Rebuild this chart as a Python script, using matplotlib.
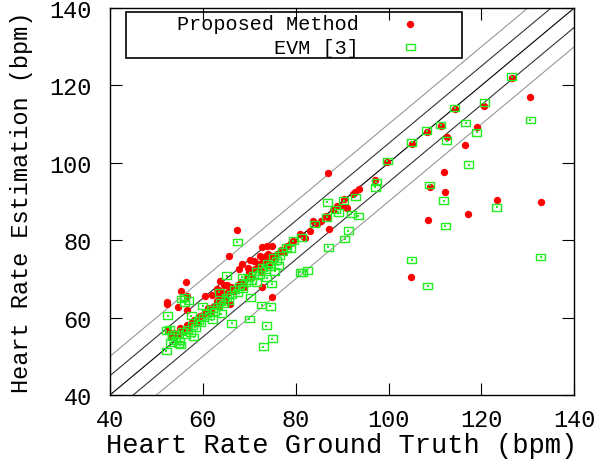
import matplotlib
matplotlib.use("Agg")
import matplotlib.pyplot as plt
from matplotlib.path import Path
from matplotlib.patches import Rectangle

# ground truth / estimation pairs (bpm)
prop_gt = [126.5, 130.4, 120.6, 114.3, 119.0, 111.2, 108.2, 112.5, 105.0, 116.5,
           99.7, 111.9, 108.9, 86.9, 112.2, 123.3, 132.9, 117.2, 108.4, 104.9,
           52.5, 53.2, 53.8, 54.5, 55.0, 55.8, 56.5, 57.0, 57.6, 58.2,
           58.8, 59.3, 60.0, 60.6, 61.2, 61.8, 62.4, 63.0, 63.5, 64.2,
           64.8, 65.5, 66.0, 66.8, 67.5, 68.2, 68.8, 69.5, 70.0, 70.6,
           71.2, 71.8, 72.5, 73.0, 73.6, 74.2, 74.8, 75.3, 76.0, 76.8,
           77.5, 78.2, 79.0, 79.5, 80.9, 81.5, 82.0, 83.0, 83.8, 84.5,
           85.5, 86.5, 87.0, 87.2, 88.0, 88.8, 89.5, 90.3, 90.6, 91.0,
           92.4, 92.8, 93.6, 97.1,
           60.5, 62.0, 63.2, 64.5, 67.8, 68.5, 69.8, 71.0, 72.3, 73.5,
           74.0, 75.0, 52.3, 52.2, 54.7, 56.5, 56.6, 55.4, 56.3, 63.7,
           63.7, 65.1, 63.0, 65.8, 65.7, 67.4, 70.2, 72.7, 73.8, 74.8, 72.7]
prop_est = [122.0, 116.9, 114.8, 113.9, 109.3, 109.6, 107.9, 106.6, 104.9, 104.6,
            100.1, 97.5, 93.8, 97.3, 92.4, 90.4, 89.8, 86.9, 85.2, 70.4,
            56.5, 55.0, 56.0, 55.5, 57.2, 56.5, 58.0, 57.5, 58.8, 59.5,
            58.6, 60.5, 60.8, 61.5, 62.5, 61.8, 63.0, 64.2, 63.0, 65.5,
            64.5, 66.5, 67.8, 67.0, 68.5, 69.2, 68.0, 70.5, 71.8, 70.5,
            72.5, 73.8, 72.0, 74.5, 75.2, 73.5, 75.8, 74.8, 76.5, 77.5,
            77.0, 78.5, 79.2, 79.9, 81.6, 81.2, 80.7, 82.5, 85.0, 84.2,
            85.0, 86.2, 85.9, 82.9, 87.8, 88.8, 88.9, 90.6, 88.5, 88.2,
            91.9, 92.4, 93.2, 95.6,
            65.5, 65.8, 66.0, 68.5, 72.5, 73.8, 72.8, 74.5, 76.0, 75.8,
            76.5, 78.5, 63.5, 64.0, 62.7, 62.0, 65.7, 67.0, 69.3, 69.5,
            67.0, 68.4, 67.4, 63.5, 76.0, 82.7, 75.0, 78.2, 78.4, 65.2, 67.8]

evm_gt = [126.5, 130.5, 120.6, 114.3, 116.6, 119.0, 111.2, 108.2, 112.5, 105.0,
          99.7, 117.3, 97.3, 97.1, 108.9, 112.2, 111.9, 123.3, 86.8, 89.2,
          92.0, 93.5, 91.3, 90.6, 87.0, 81.5, 105.0, 132.8, 108.4,
          52.1, 53.0, 53.5, 54.2, 54.8, 55.1, 55.6, 56.2, 56.8, 57.3,
          57.8, 58.4, 59.0, 59.6, 60.2, 60.8, 61.4, 62.0, 62.6, 63.2,
          63.8, 64.4, 65.0, 65.6, 66.2, 66.8, 67.4, 68.0, 68.6, 69.2,
          69.8, 70.4, 71.0, 71.6, 72.2, 72.8, 73.4, 74.0, 74.6, 75.2,
          75.8, 76.5, 77.2, 78.0, 78.8, 79.5, 81.3, 84.1, 86.7, 88.5,
          90.3, 92.8,
          67.4, 52.4, 52.9, 55.4, 56.9, 66.2, 70.0, 73.0, 73.7, 75.0,
          74.5, 72.7, 65.1, 74.8, 70.3, 81.0, 82.5, 63.5, 60.0, 57.5,
          68.5, 71.5, 73.8, 75.5, 76.2, 64.0, 62.0, 58.0, 55.0, 52.1,
          56.1, 56.1, 54.7, 53.5]
evm_est = [122.3, 111.1, 115.5, 114.2, 110.3, 107.9, 109.8, 108.3, 105.7, 105.3,
           100.5, 99.5, 95.0, 93.7, 94.3, 83.7, 90.2, 88.5, 89.8, 87.2,
           86.8, 86.3, 82.5, 80.3, 78.2, 71.7, 74.9, 75.7, 68.2,
           51.4, 53.5, 55.0, 54.0, 55.8, 52.9, 56.5, 55.5, 57.0, 56.2,
           58.0, 57.5, 59.2, 58.6, 60.0, 61.0, 60.5, 62.2, 61.5, 63.0,
           64.0, 63.5, 65.2, 64.5, 66.0, 67.2, 66.5, 68.0, 67.5, 69.0,
           70.2, 69.5, 71.0, 72.0, 71.2, 73.0, 72.5, 74.0, 73.2, 75.5,
           74.8, 76.0, 77.0, 78.2, 77.8, 79.9, 80.7, 84.2, 85.9, 88.0,
           90.2, 91.2,
           79.5, 60.5, 57.0, 64.8, 64.4, 58.5, 59.6, 52.5, 57.9, 54.6,
           62.9, 63.3, 70.8, 68.7, 65.2, 71.7, 72.1, 66.5, 63.0, 60.5,
           70.5, 69.0, 70.2, 72.0, 73.5, 61.0, 59.5, 55.0, 54.0, 56.6,
           65.2, 63.8, 53.2, 55.8]

# reference lines y = x + offset
offsets = [0, 5, -5, 10, -10]
line_colors = ['black', '#333333', '#333333', '#999999', '#999999']

plt.rcParams['font.family'] = ['Liberation Mono', 'DejaVu Sans Mono']

fig = plt.figure(figsize=(6, 4.6), dpi=100)
ax = fig.add_axes([0.1833, 0.1391, 0.7738, 0.8413])

xs = [40, 140]
for off, col in zip(offsets, line_colors):
    ax.plot(xs, [x + off for x in xs], color=col, lw=0.8, zorder=1)

box = Path([(-1.35, -1), (1.35, -1), (1.35, 1), (-1.35, 1), (-1.35, -1)],
           [Path.MOVETO, Path.LINETO, Path.LINETO, Path.LINETO, Path.CLOSEPOLY])

red = '#ff0000'
green = '#22ee22'

ax.scatter(prop_gt, prop_est, s=28, marker='o', color=red,
           linewidths=0, zorder=2)
ax.scatter(evm_gt, evm_est, s=42, marker=box, facecolors='none',
           edgecolors=green, linewidths=1.0, zorder=3)
ax.scatter(evm_gt, evm_est, s=1, marker='s', color=green, linewidths=0, zorder=3)

ax.set_xlim(40, 140)
ax.set_ylim(40, 140)
ax.set_xticks(range(40, 141, 20))
ax.set_yticks(range(40, 141, 20))
ax.tick_params(direction='in', length=8.5, width=0.8, top=True, right=True,
               labelsize=17)
ax.tick_params(axis='y', pad=13)
ax.tick_params(axis='x', pad=9)
for sp in ax.spines.values():
    sp.set_linewidth(1.0)

ax.set_xlabel('Heart Rate Ground Truth (bpm)', fontsize=19.5)
ax.set_ylabel('Heart Rate Estimation (bpm)', fontsize=17)
ax.xaxis.set_label_coords(0.5, -0.095)
ax.yaxis.set_label_coords(-0.165, 0.5)

# gnuplot style key
ax.add_patch(Rectangle((0.034, 0.871), 0.724, 0.119, transform=ax.transAxes,
                       fill=False, ec='black', lw=1.2, zorder=5))
ax.text(0.537, 0.9587, 'Proposed Method', transform=ax.transAxes, ha='right',
        va='center', fontsize=14.5, zorder=5)
ax.text(0.537, 0.899, 'EVM [3]', transform=ax.transAxes, ha='right',
        va='center', fontsize=14.5, zorder=5)
ax.scatter([0.647], [0.9587], s=28, marker='o', color=red, linewidths=0,
           transform=ax.transAxes, zorder=5, clip_on=False)
ax.scatter([0.647], [0.899], s=42, marker=box, facecolors='none',
           edgecolors=green, linewidths=1.0, transform=ax.transAxes,
           zorder=5, clip_on=False)

fig.savefig('out.png', dpi=100)
